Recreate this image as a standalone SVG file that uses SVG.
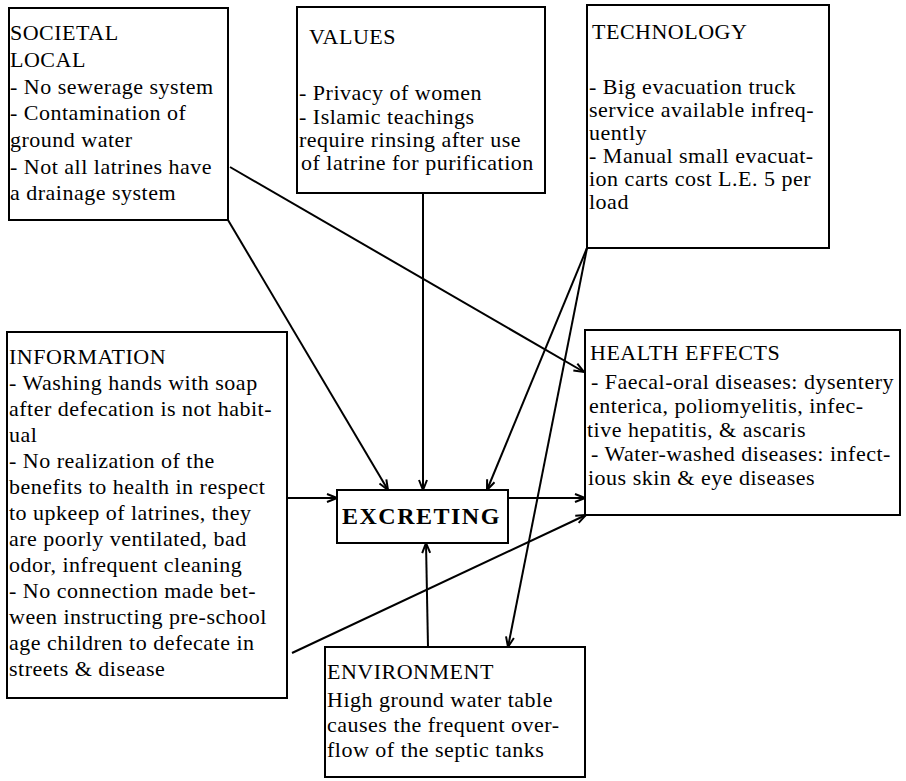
<svg xmlns="http://www.w3.org/2000/svg" width="906" height="781" viewBox="0 0 906 781">
  <style>
    .box { fill: #fff; stroke: #000; stroke-width: 2; }
    .t { font-family: "Liberation Serif", "Times New Roman", serif; font-size: 22px; letter-spacing: 0.5px; fill: #000; }
    .hub { font-family: "Liberation Serif", "Times New Roman", serif; font-size: 24px; font-weight: bold; letter-spacing: 1.5px; fill: #000; }
    .edge { fill: none; stroke: #000; stroke-width: 2; marker-end: url(#arr); }
  </style>
  <defs>
    <marker id="arr" viewBox="0 0 12 10" refX="11" refY="5" markerWidth="12" markerHeight="10" markerUnits="userSpaceOnUse" orient="auto">
      <path d="M1,1 L11,5 L1,9" fill="none" stroke="#000" stroke-width="2"/>
    </marker>
  </defs>
  <rect width="906" height="781" fill="#fff"/>

  <!-- connectors -->
  <g id="connectors">
    <line class="edge" x1="228" y1="220" x2="388" y2="490"/>
    <line class="edge" x1="423" y1="193" x2="423" y2="490"/>
    <line class="edge" x1="587" y1="248" x2="487" y2="490"/>
    <line class="edge" x1="587" y1="248" x2="508" y2="647"/>
    <line class="edge" x1="230" y1="167" x2="584" y2="372"/>
    <line class="edge" x1="287" y1="498" x2="337" y2="498"/>
    <line class="edge" x1="508" y1="498" x2="585" y2="498"/>
    <line class="edge" x1="292" y1="653" x2="586" y2="515"/>
    <line class="edge" x1="428" y1="647" x2="426" y2="543"/>
  </g>

  <!-- societal / local -->
  <g id="societal">
    <rect class="box" x="9" y="8" width="219" height="212"/>
    <text class="t" x="10" y="40">SOCIETAL</text>
    <text class="t" x="10" y="67">LOCAL</text>
    <text class="t" x="10" y="94">- No sewerage system</text>
    <text class="t" x="10" y="120">- Contamination of</text>
    <text class="t" x="10" y="147">ground water</text>
    <text class="t" x="10" y="174">- Not all latrines have</text>
    <text class="t" x="10" y="200">a drainage system</text>
  </g>

  <!-- values -->
  <g id="values">
    <rect class="box" x="297" y="7" width="248" height="186"/>
    <text class="t" x="309" y="44">VALUES</text>
    <text class="t" x="299" y="100">- Privacy of women</text>
    <text class="t" x="299" y="124">- Islamic teachings</text>
    <text class="t" x="299" y="147">require rinsing after use</text>
    <text class="t" x="301" y="170">of latrine for purification</text>
  </g>

  <!-- technology -->
  <g id="technology">
    <rect class="box" x="587" y="5" width="242" height="243"/>
    <text class="t" x="592" y="39">TECHNOLOGY</text>
    <text class="t" x="589" y="94">- Big evacuation truck</text>
    <text class="t" x="589" y="117">service  available infreq-</text>
    <text class="t" x="589" y="140">uently</text>
    <text class="t" x="589" y="163">- Manual small evacuat-</text>
    <text class="t" x="589" y="186">ion carts cost L.E. 5 per</text>
    <text class="t" x="589" y="209">load</text>
  </g>

  <!-- information -->
  <g id="information">
    <rect class="box" x="7" y="332" width="280" height="366"/>
    <text class="t" x="9" y="364">INFORMATION</text>
    <text class="t" x="9" y="390">- Washing hands with soap</text>
    <text class="t" x="9" y="416">after defecation is not habit-</text>
    <text class="t" x="9" y="442">ual</text>
    <text class="t" x="9" y="468">- No realization of the</text>
    <text class="t" x="9" y="494">benefits to health in respect</text>
    <text class="t" x="9" y="520">to upkeep of latrines, they</text>
    <text class="t" x="9" y="546">are poorly ventilated, bad</text>
    <text class="t" x="9" y="572">odor, infrequent cleaning</text>
    <text class="t" x="9" y="598">- No connection made bet-</text>
    <text class="t" x="9" y="624">ween instructing pre-school</text>
    <text class="t" x="9" y="650">age children to defecate in</text>
    <text class="t" x="9" y="676">streets &amp; disease</text>
  </g>

  <!-- central activity -->
  <g id="excreting">
    <rect class="box" x="337" y="490" width="171" height="53"/>
    <text class="hub" x="342" y="524">EXCRETING</text>
  </g>

  <!-- health effects -->
  <g id="health">
    <rect class="box" x="585" y="330" width="315" height="185"/>
    <text class="t" x="590" y="360">HEALTH EFFECTS</text>
    <text class="t" x="591" y="389">- Faecal-oral diseases: dysentery</text>
    <text class="t" x="589" y="413">enterica, poliomyelitis, infec-</text>
    <text class="t" x="587" y="437">tive hepatitis, &amp; ascaris</text>
    <text class="t" x="591" y="461">- Water-washed diseases: infect-</text>
    <text class="t" x="588" y="485">ious skin &amp; eye diseases</text>
  </g>

  <!-- environment -->
  <g id="environment">
    <rect class="box" x="325" y="647" width="260" height="130"/>
    <text class="t" x="327" y="679">ENVIRONMENT</text>
    <text class="t" x="327" y="707">High ground water table</text>
    <text class="t" x="327" y="732">causes the frequent over-</text>
    <text class="t" x="327" y="757">flow of the septic tanks</text>
  </g>
</svg>
